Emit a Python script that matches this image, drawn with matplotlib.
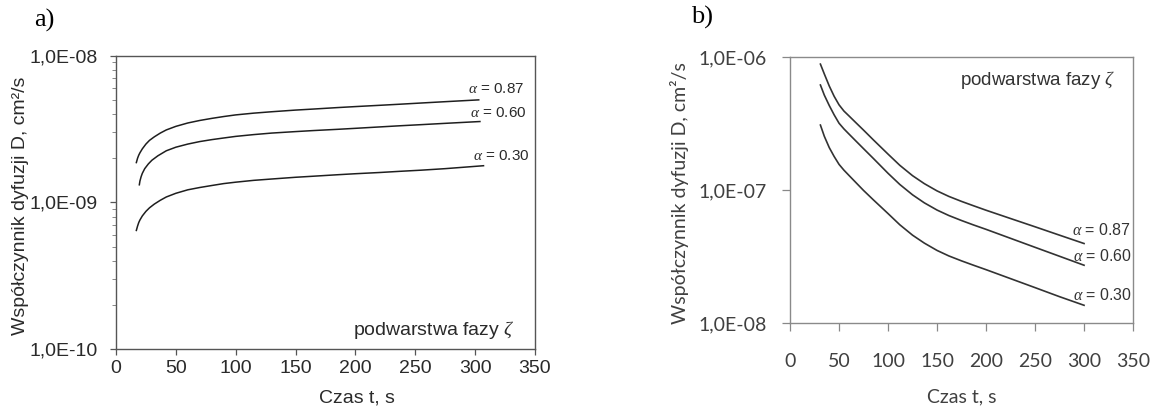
import matplotlib
matplotlib.use('Agg')
import matplotlib.pyplot as plt
import numpy as np
from matplotlib.ticker import LogLocator, NullLocator

plt.rcParams['font.family'] = ['Liberation Sans', 'DejaVu Sans']
plt.rcParams['mathtext.fontset'] = 'custom'
plt.rcParams['mathtext.rm'] = 'Liberation Serif'
plt.rcParams['mathtext.it'] = 'Liberation Serif:italic'

# Panel a) - D rises with time, values in 1e-9 cm2/s
t_a_087 = [17, 18, 19, 20, 22, 25, 28, 32, 37, 42, 50, 60, 70, 80, 90, 100, 115,
           130, 150, 165, 185, 200, 220, 237, 255, 275, 303]
D_a_087 = [1.87, 2.0, 2.1, 2.18, 2.32, 2.5, 2.65, 2.8, 2.97, 3.12, 3.3, 3.48, 3.62,
           3.74, 3.85, 3.95, 4.06, 4.15, 4.26, 4.33, 4.43, 4.5, 4.59, 4.67, 4.76,
           4.86, 5.0]
t_a_060 = [19.5, 20, 21, 22, 24, 27, 30, 35, 42, 50, 60, 70, 80, 90, 100, 115, 130,
           150, 165, 185, 200, 220, 237, 255, 275, 304]
D_a_060 = [1.32, 1.4, 1.5, 1.58, 1.7, 1.83, 1.94, 2.08, 2.25, 2.38, 2.5, 2.6, 2.68,
           2.75, 2.82, 2.9, 2.97, 3.04, 3.09, 3.15, 3.2, 3.27, 3.33, 3.39, 3.46,
           3.56]
t_a_030 = [17, 18, 19, 20, 22, 25, 28, 32, 37, 42, 50, 60, 70, 80, 90, 100, 115,
           130, 150, 165, 185, 200, 220, 237, 255, 275, 307]
D_a_030 = [0.645, 0.69, 0.73, 0.76, 0.81, 0.87, 0.92, 0.975, 1.035, 1.09, 1.155,
           1.22, 1.265, 1.305, 1.345, 1.375, 1.415, 1.445, 1.485, 1.51, 1.545, 1.57,
           1.6, 1.63, 1.66, 1.7, 1.78]

# Panel b) - D falls with time, values in 1e-7 cm2/s
t_b = [31, 35, 40, 45, 50, 55, 60, 67, 75, 85, 100, 112, 125, 137, 150, 162, 175,
       187, 200, 225, 250, 275, 300]
D_b_087 = [8.9, 7.5, 6.1, 5.1, 4.4, 3.95, 3.64, 3.24, 2.84, 2.4, 1.875, 1.545, 1.291,
           1.125, 0.992, 0.902, 0.827, 0.768, 0.71, 0.615, 0.533, 0.461, 0.399]
D_b_060 = [6.2, 5.2, 4.35, 3.7, 3.2, 2.9, 2.66, 2.36, 2.06, 1.74, 1.345, 1.109,
           0.927, 0.807, 0.712, 0.648, 0.594, 0.551, 0.51, 0.4365, 0.3736, 0.32,
           0.274]
D_b_030 = [3.1, 2.55, 2.1, 1.8, 1.57, 1.42, 1.3, 1.15, 1.0, 0.85, 0.67, 0.552,
           0.461, 0.402, 0.354, 0.322, 0.2955, 0.2744, 0.2538, 0.2173, 0.186, 0.159,
           0.137]

alpha_labels = [r'$\alpha$ = 0.87', r'$\alpha$ = 0.60', r'$\alpha$ = 0.30']
xticks = [0, 50, 100, 150, 200, 250, 300, 350]
yticks_a = [1e-10, 1e-9, 1e-8]
ytick_labels_a = ['1,0E-10', '1,0E-09', '1,0E-08']
yticks_b = [1e-8, 1e-7, 1e-6]
ytick_labels_b = ['1,0E-08', '1,0E-07', '1,0E-06']
ylabel = 'Współczynnik dyfuzji D, cm²/s'
xlabel = 'Czas t, s'
phase_label = r'podwarstwa fazy $\zeta$'

fig = plt.figure(figsize=(11.53, 4.07), dpi=100)

# ---------------- panel a)
ax1 = fig.add_axes([0.1006, 0.1418, 0.3634, 0.7214])
line_col = '#1e1e1e'
for t, D in [(t_a_087, D_a_087), (t_a_060, D_a_060), (t_a_030, D_a_030)]:
    ax1.plot(t, np.array(D) * 1e-9, color=line_col, lw=1.1)
ax1.set_yscale('log')
ax1.set_xlim(0, 350)
ax1.set_ylim(1e-10, 1e-8)
ax1.set_xticks(xticks)
ax1.set_yticks(yticks_a, ytick_labels_a)
ax1.yaxis.set_minor_locator(LogLocator(base=10, subs=range(2, 10)))
ax1.yaxis.set_minor_formatter(plt.NullFormatter())
ax1.tick_params(axis='both', which='major', labelsize=14, colors='#555555',
                labelcolor='#2a2a2a', length=4, width=0.9)
ax1.tick_params(axis='x', pad=4)
ax1.tick_params(axis='y', pad=9)
ax1.tick_params(axis='y', which='minor', length=3, width=0.7, colors='#888888')
for sp in ax1.spines.values():
    sp.set_color('#555555')
    sp.set_linewidth(1.0)

ax1.set_xlabel(xlabel, fontsize=14, color='#2a2a2a', va='center')
ax1.xaxis.set_label_coords(0.575, -0.166)
ax1.set_ylabel(ylabel, fontsize=14, color='#2a2a2a', va='center')
ax1.yaxis.set_label_coords(-0.229, 0.49)

ax1.text(294, 5.9e-9, alpha_labels[0], fontsize=11, color='#2a2a2a', va='center')
ax1.text(296, 4.09e-9, alpha_labels[1], fontsize=11, color='#2a2a2a', va='center')
ax1.text(298, 2.06e-9, alpha_labels[2], fontsize=11, color='#2a2a2a', va='center')
ax1.text(333, 1.36e-10, phase_label, fontsize=14, color='#2a2a2a',
         ha='right', va='center')

fig.text(34 / 1153, 1 - 20 / 407, 'a)', fontsize=19, family='Liberation Serif',
         va='center', ha='left')

# ---------------- panel b)
ax2 = fig.add_axes([0.6852, 0.2052, 0.2975, 0.6538])
line_col_b = '#333333'
for D in [D_b_087, D_b_060, D_b_030]:
    ax2.plot(t_b, np.array(D) * 1e-7, color=line_col_b, lw=1.2)
ax2.set_yscale('log')
ax2.set_xlim(0, 350)
ax2.set_ylim(1e-8, 1e-6)
ax2.set_xticks(xticks)
ax2.set_yticks(yticks_b, ytick_labels_b)
ax2.yaxis.set_minor_locator(NullLocator())
ax2.tick_params(axis='both', which='major', labelsize=14, colors='#888888',
                labelcolor='#404040', length=6, width=0.9)
ax2.tick_params(axis='x', pad=15)
ax2.tick_params(axis='y', pad=11)
for lab in ax2.get_xticklabels() + ax2.get_yticklabels():
    lab.set_family('Lato')
for sp in ax2.spines.values():
    sp.set_color('#8a8a8a')
    sp.set_linewidth(1.0)

ax2.set_xlabel(xlabel, fontsize=14, color='#404040', family='Lato', va='center')
ax2.xaxis.set_label_coords(0.5, -0.276)
ax2.set_ylabel(ylabel, fontsize=14, color='#404040', family='Lato', va='center')
ax2.yaxis.set_label_coords(-0.321, 0.492)

ax2.text(288, 5.07e-8, alpha_labels[0], fontsize=11.5, color='#333333', va='center')
ax2.text(289, 3.2e-8, alpha_labels[1], fontsize=11.5, color='#333333', va='center')
ax2.text(289, 1.65e-8, alpha_labels[2], fontsize=11.5, color='#333333', va='center')
ax2.text(332, 6.76e-7, phase_label, fontsize=13.5, color='#333333',
         ha='right', va='center')

fig.text(691 / 1153, 1 - 17 / 407, 'b)', fontsize=19, family='Liberation Serif',
         va='center', ha='left')

fig.savefig('out.png', dpi=100)
